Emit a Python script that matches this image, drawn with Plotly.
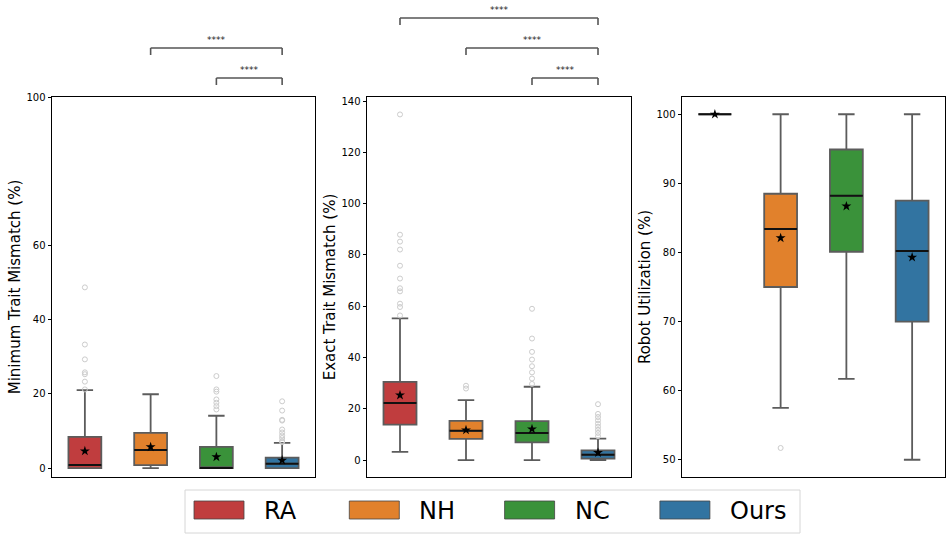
import plotly.graph_objects as go

W, H = 952, 541

categories = ["RA", "NH", "NC", "Ours"]
colors = ["#c03d3e", "#e1812c", "#3a923a", "#3274a1"]

# panel 1: minimum trait mismatch (%)
min_q1 = [0.0, 0.8, 0.0, 0.0]
min_median = [0.8, 4.9, 0.0, 1.2]
min_q3 = [8.4, 9.5, 5.7, 2.8]
min_low = [0.0, 0.0, 0.0, 0.0]
min_high = [21.0, 19.9, 14.1, 6.8]
min_mean = [4.6, 5.7, 3.0, 2.1]
min_outliers = [
    [48.7, 33.3, 29.3, 25.8, 25.3, 23.3, 21.2],
    [],
    [24.8, 21.2, 20.6, 18.5, 17.6, 16.7, 15.8],
    [18.0, 15.5, 13.0, 12.8, 10.4, 9.6, 8.8, 8.1, 7.3, 7.0],
]

# panel 2: exact trait mismatch (%)
exact_q1 = [13.8, 8.3, 6.9, 0.6]
exact_median = [22.3, 11.4, 10.6, 2.1]
exact_q3 = [30.5, 15.3, 15.2, 3.8]
exact_low = [3.2, 0.0, 0.0, 0.0]
exact_high = [55.3, 23.4, 28.6, 8.4]
exact_mean = [25.3, 11.7, 12.1, 2.9]
exact_outliers = [
    [134.8, 87.9, 85.2, 82.1, 75.8, 70.8, 67.0, 65.8, 61.0, 59.7, 56.4],
    [29.0, 27.9],
    [59.0, 47.4, 42.2, 39.2, 36.6, 34.2, 31.8, 29.7],
    [21.8, 18.0, 16.8, 15.5, 14.2, 13.0, 11.8, 10.6, 9.3],
]

# panel 3: robot utilization (%)
util_q1 = [100.0, 75.0, 80.1, 70.0]
util_median = [100.0, 83.4, 88.2, 80.2]
util_q3 = [100.0, 88.5, 94.9, 87.5]
util_low = [100.0, 57.5, 61.7, 50.0]
util_high = [100.0, 100.0, 100.0, 100.0]
util_mean = [100.0, 82.1, 86.7, 79.3]
util_outliers = [[], [51.7], [], []]

min_ticks = [0, 20, 40, 60, 100]
exact_ticks = [0, 20, 40, 60, 80, 100, 120, 140]
util_ticks = [50, 60, 70, 80, 90, 100]

# significance brackets (from, to, label), innermost first
min_pairs = [("NC", "Ours", "****"), ("NH", "Ours", "****")]
exact_pairs = [("NC", "Ours", "****"), ("NH", "Ours", "****"), ("RA", "Ours", "****")]

FONT = "DejaVu Sans"
EDGE = "#5c5c5c"

fig = go.Figure()


def add_panel(n, q1, med, q3, low, high, mean, outliers):
    xa, ya = f"x{n}", f"y{n}"
    for i, cat in enumerate(categories):
        fig.add_trace(go.Box(
            x=[cat], q1=[q1[i]], median=[med[i]], q3=[q3[i]],
            lowerfence=[low[i]], upperfence=[high[i]],
            fillcolor=colors[i], line=dict(color=EDGE, width=1.8),
            width=0.5, whiskerwidth=0.5, boxpoints=False,
            xaxis=xa, yaxis=ya, showlegend=False, hoverinfo="skip",
        ))
        # black median line drawn on top
        fig.add_trace(go.Box(
            x=[cat], q1=[med[i]], median=[med[i]], q3=[med[i]],
            lowerfence=[med[i]], upperfence=[med[i]],
            fillcolor="rgba(0,0,0,0)", line=dict(color="#111111", width=2),
            width=0.5, whiskerwidth=0, boxpoints=False,
            xaxis=xa, yaxis=ya, showlegend=False, hoverinfo="skip",
        ))
        if outliers[i]:
            fig.add_trace(go.Scatter(
                x=[cat] * len(outliers[i]), y=outliers[i], mode="markers",
                marker=dict(symbol="circle-open", size=5, color="#cccccc",
                            line=dict(width=1)),
                xaxis=xa, yaxis=ya, showlegend=False, hoverinfo="skip",
            ))
    fig.add_trace(go.Scatter(
        x=categories, y=mean, mode="markers",
        marker=dict(symbol="star", size=7.5, color="black"),
        xaxis=xa, yaxis=ya, showlegend=False,
    ))


add_panel(1, min_q1, min_median, min_q3, min_low, min_high, min_mean, min_outliers)
add_panel(2, exact_q1, exact_median, exact_q3, exact_low, exact_high, exact_mean, exact_outliers)
add_panel(3, util_q1, util_median, util_q3, util_low, util_high, util_mean, util_outliers)


def py(px):
    return 1 - px / H


shapes = []
annotations = []


def add_brackets(xref, pairs):
    for level, (a, b, label) in enumerate(pairs):
        ia, ib = categories.index(a), categories.index(b)
        top = 78 - 30 * level
        line = dict(color="#555555", width=1.6)
        shapes.append(dict(type="line", xref=xref, yref="paper", x0=ia, x1=ib,
                           y0=py(top), y1=py(top), line=line))
        for xi in (ia, ib):
            shapes.append(dict(type="line", xref=xref, yref="paper", x0=xi, x1=xi,
                               y0=py(top), y1=py(top + 7), line=line))
        annotations.append(dict(xref=xref, yref="paper", x=(ia + ib) / 2, y=py(top - 1),
                                text=label, showarrow=False, yanchor="bottom",
                                font=dict(family=FONT, size=9, color="#222222")))


add_brackets("x", min_pairs)
add_brackets("x2", exact_pairs)

# legend drawn as a box below the panels
shapes.append(dict(type="rect", xref="paper", yref="paper",
                   x0=185 / W, x1=800 / W, y0=py(533), y1=py(490),
                   line=dict(color="#d6d6d6", width=1)))
for i, cat in enumerate(categories):
    x0 = 194 + 155.3 * i
    shapes.append(dict(type="rect", xref="paper", yref="paper",
                       x0=x0 / W, x1=(x0 + 50) / W, y0=py(519), y1=py(501),
                       fillcolor=colors[i], line=dict(color="#444444", width=0.8)))
    annotations.append(dict(xref="paper", yref="paper", x=(x0 + 68) / W, y=py(511),
                            text=cat, showarrow=False, xanchor="left", yanchor="middle",
                            font=dict(family=FONT, size=24, color="black")))

domains = [(52, 315), (367, 631), (682, 945)]
ranges = [(-2.4, 100), (-6.6, 141.6), (47.5, 102.5)]
ticks = [min_ticks, exact_ticks, util_ticks]
titles = ["Minimum Trait Mismatch (%)", "Exact Trait Mismatch (%)", "Robot Utilization (%)"]

layout = {}
for n in range(3):
    sfx = "" if n == 0 else str(n + 1)
    layout[f"xaxis{sfx}"] = dict(
        domain=[domains[n][0] / W, domains[n][1] / W],
        anchor=f"y{sfx}", type="category", categoryorder="array",
        categoryarray=categories, range=[-0.5, 3.5],
        showticklabels=False, ticks="", showgrid=False, zeroline=False,
        showline=True, linecolor="black", linewidth=1, mirror=True,
    )
    layout[f"yaxis{sfx}"] = dict(
        domain=[py(477), py(97)], anchor=f"x{sfx}", range=list(ranges[n]),
        tickvals=ticks[n], ticks="outside", ticklen=3.5, tickwidth=1,
        tickcolor="black", tickfont=dict(family=FONT, size=10, color="black"),
        showgrid=False, zeroline=False, automargin=False,
        showline=True, linecolor="black", linewidth=1, mirror=True,
        title=dict(text=titles[n], standoff=2,
                   font=dict(family=FONT, size=15, color="black")),
    )

fig.update_layout(
    width=W, height=H,
    margin=dict(l=0, r=0, t=0, b=0),
    boxmode="overlay",
    plot_bgcolor="white", paper_bgcolor="white",
    shapes=shapes, annotations=annotations,
    showlegend=False,
    **layout,
)

# the page body has a default 8px margin; remove it so the figure fills the window
fig.write_html("out.html", config={"displayModeBar": False},
               post_script="document.body.style.margin='0';")
